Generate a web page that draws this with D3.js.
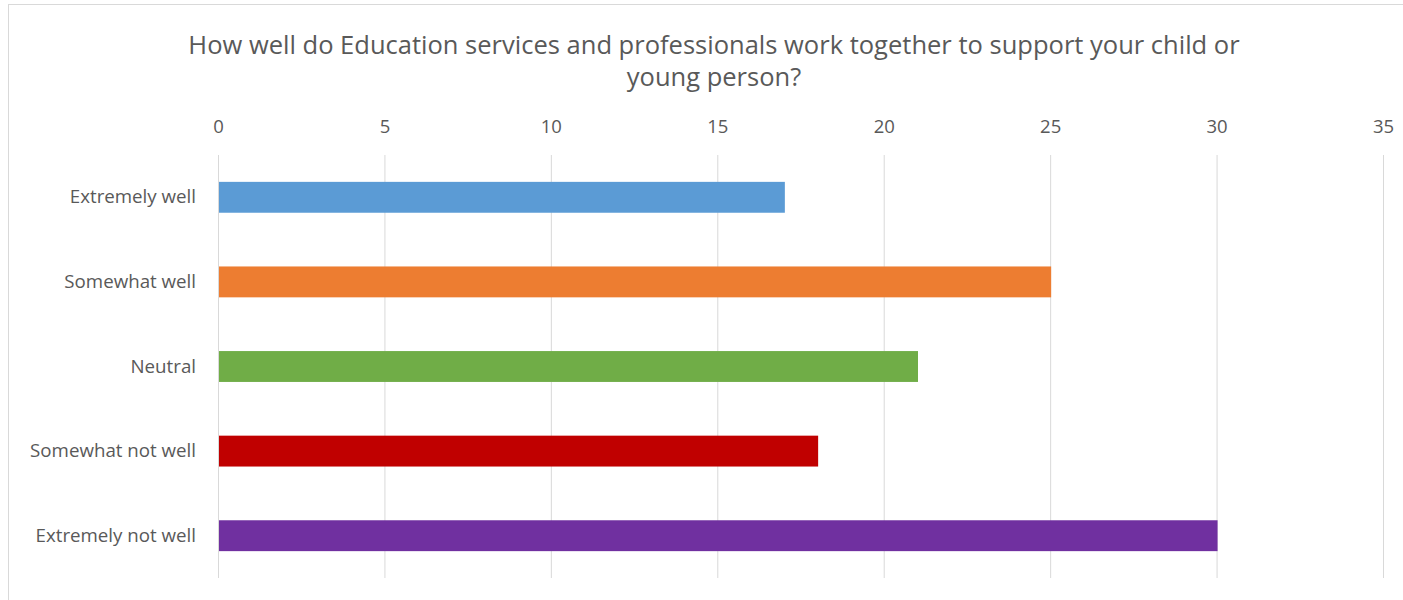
<!DOCTYPE html>
<html><head><meta charset="utf-8">
<script src="https://cdn.jsdelivr.net/npm/d3@7"></script>
<style>body{margin:0;background:#fff}svg{display:block}text{font-family:"Open Sans",sans-serif;fill:#595959}</style>
</head><body><svg id="c" width="1403" height="600"></svg>
<script>
const titleLines = ["How well do Education services and professionals work together to support your child or", "young person?"];
const categories = ["Extremely well", "Somewhat well", "Neutral", "Somewhat not well", "Extremely not well"];
const values = [17, 25, 21, 18, 30];
const colors = ["#5B9BD5", "#ED7D31", "#70AD47", "#C00000", "#7030A0"];
const tickValues = [0, 5, 10, 15, 20, 25, 30, 35];

const svg = d3.select("#c");
// chart frame
svg.append("rect").attr("x", 8.5).attr("y", 4.5).attr("width", 1420).attr("height", 620)
  .attr("fill", "#fff").attr("stroke", "#D9D9D9").attr("stroke-width", 1);

const x = d3.scaleLinear().domain([0, 35]).range([218, 1383]);
const y = d3.scaleBand().domain(categories).range([155, 578]).paddingInner(0.635).paddingOuter(0.3175);

function fit(sel, w) {
  const l = sel.node().getComputedTextLength();
  const fs = parseFloat(sel.attr("font-size"));
  sel.attr("font-size", fs * w / l);
}

// title
const t1 = svg.append("text").attr("x", 714).attr("y", 54).attr("text-anchor", "middle").attr("font-size", 22).text(titleLines[0]);
fit(t1, 1052);
const fsT = t1.attr("font-size");
svg.append("text").attr("x", 714).attr("y", 86).attr("text-anchor", "middle").attr("font-size", fsT).text(titleLines[1]);

// gridlines
svg.append("g").selectAll("line").data(tickValues).join("line")
  .attr("x1", d => x(d) + 0.5).attr("x2", d => x(d) + 0.5)
  .attr("y1", 155).attr("y2", 578)
  .attr("stroke", "#D9D9D9").attr("stroke-width", 1);

// top axis
const ax = svg.append("g").attr("transform", "translate(0,133)")
  .call(d3.axisTop(x).tickValues(tickValues).tickSize(0).tickPadding(0));
ax.select(".domain").remove();
ax.selectAll("text").attr("font-size", 18.5).attr("font-family", '"Open Sans",sans-serif').attr("fill", "#595959").attr("dy", 0);

// bars
svg.append("g").selectAll("rect").data(values).join("rect")
  .attr("x", x(0) + 1).attr("y", (d, i) => y(categories[i]))
  .attr("width", d => x(d) - x(0)).attr("height", y.bandwidth())
  .attr("fill", (d, i) => colors[i]);

// category axis
const ay = svg.append("g").attr("transform", "translate(218,0)")
  .call(d3.axisLeft(y).tickSize(0).tickPadding(22));
ay.select(".domain").remove();
ay.selectAll("text").attr("font-size", 16).attr("font-family", '"Open Sans",sans-serif').attr("fill", "#595959");
// scale label font so the longest label matches the reference width
let maxL = 0;
ay.selectAll("text").each(function(){ maxL = Math.max(maxL, this.getComputedTextLength()); });
ay.selectAll("text").attr("font-size", 16 * 166 / maxL);
</script></body></html>
